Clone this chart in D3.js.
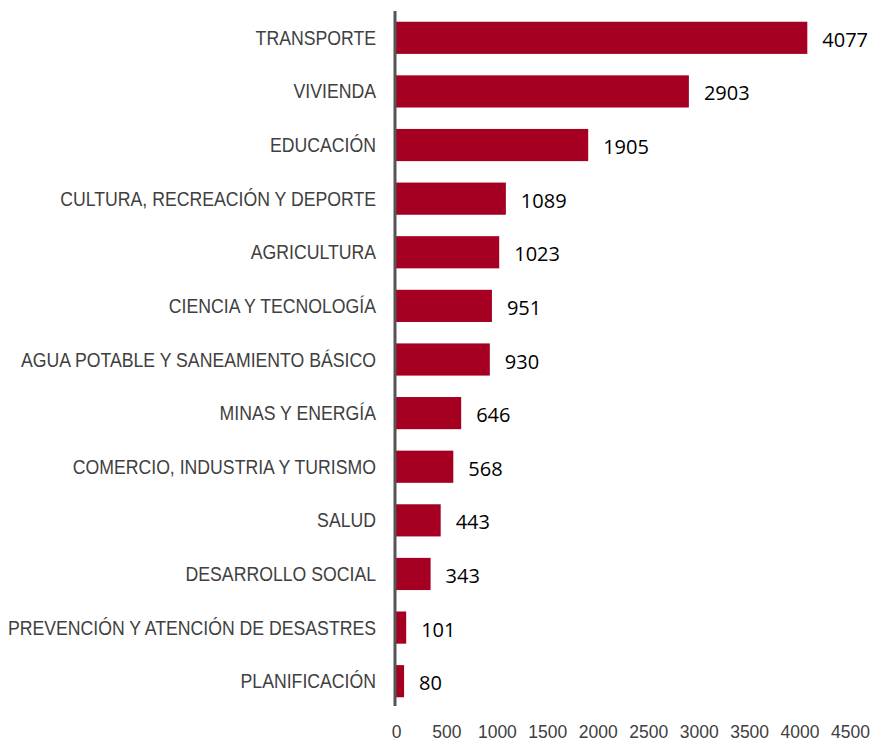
<!DOCTYPE html>
<html>
<head>
<meta charset="utf-8">
<script src="https://cdn.jsdelivr.net/npm/d3@7"></script>
<style>
  body { margin: 0; background: #fff; }
  .cat { font-family: "Liberation Sans", sans-serif; font-size: 20px; fill: #404040; }
  .val { font-family: "Open Sans", "Noto Sans", sans-serif; font-size: 20px; fill: #000; }
  .tick text { font-family: "Liberation Sans", sans-serif; font-size: 17.5px; fill: #404040; }
</style>
</head>
<body>
<div id="grafico"></div>
<script>
var width = 872;
var height = 743;

// Sectores y valores
var sectores = [
	"TRANSPORTE", "VIVIENDA", "EDUCACIÓN", "CULTURA, RECREACIÓN Y DEPORTE",
	"AGRICULTURA", "CIENCIA Y TECNOLOGÍA", "AGUA POTABLE Y SANEAMIENTO BÁSICO",
	"MINAS Y ENERGÍA", "COMERCIO, INDUSTRIA Y TURISMO", "SALUD",
	"DESARROLLO SOCIAL", "PREVENCIÓN Y ATENCIÓN DE DESASTRES", "PLANIFICACIÓN"
];
var valores = [4077, 2903, 1905, 1089, 1023, 951, 930, 646, 568, 443, 343, 101, 80];
var ticks = [0, 500, 1000, 1500, 2000, 2500, 3000, 3500, 4000, 4500];

var datos = sectores.map((s, i) => ({ sector: s, valor: valores[i] }));

const svg = d3.select("#grafico").append("svg")
	.attr("width", width)
	.attr("height", height);

const x = d3.scaleLinear().domain([0, 4500]).range([396, 850]);
const y = d3.scaleBand().domain(sectores).range([11, 708]).paddingInner(0.4).paddingOuter(0.2);

// Barras
svg.selectAll(".barra")
	.data(datos)
	.enter().append("rect")
	.attr("class", "barra")
	.attr("x", x(0))
	.attr("y", d => y(d.sector))
	.attr("width", d => x(d.valor) - x(0))
	.attr("height", y.bandwidth())
	.attr("fill", "#A50021");

// Eje vertical
svg.append("line")
	.attr("x1", 395).attr("x2", 395)
	.attr("y1", 11).attr("y2", 706)
	.attr("stroke", "#555")
	.attr("stroke-width", 3);

// Etiquetas de sectores (fuente estrecha simulada con scaleX)
svg.selectAll(".cat")
	.data(datos)
	.enter().append("text")
	.attr("class", "cat")
	.attr("transform", d => `translate(376,${y(d.sector) + y.bandwidth() / 2}) scale(0.884,1)`)
	.attr("dy", "0.35em")
	.attr("text-anchor", "end")
	.text(d => d.sector);

// Valores
svg.selectAll(".val")
	.data(datos)
	.enter().append("text")
	.attr("class", "val")
	.attr("x", d => x(d.valor) + 15)
	.attr("y", d => y(d.sector) + y.bandwidth() / 2 + 2)
	.attr("dy", "0.35em")
	.text(d => d.valor);

// Eje X sin línea
const ejeX = svg.append("g")
	.attr("transform", "translate(0,723)")
	.call(d3.axisBottom(x).tickValues(ticks).tickSize(0).tickFormat(d3.format("d")));
ejeX.select(".domain").remove();
ejeX.selectAll("text").attr("dy", "0.71em");
</script>
</body>
</html>
